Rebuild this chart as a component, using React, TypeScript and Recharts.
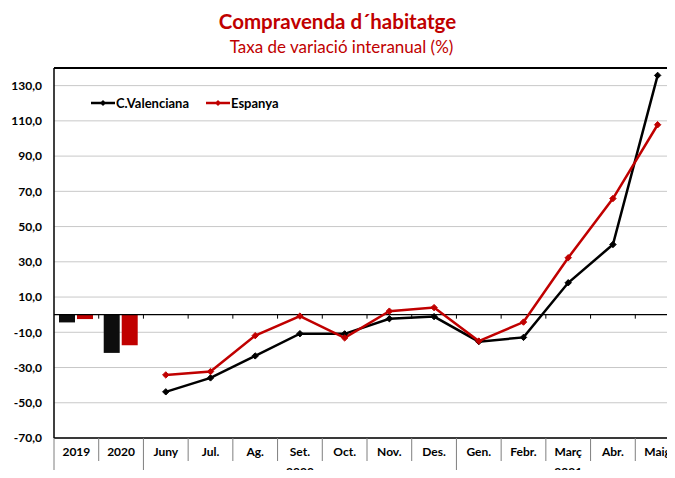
import React from "react";
import {
  ComposedChart,
  Bar,
  Line,
  XAxis,
  YAxis,
  CartesianGrid,
  ReferenceLine,
} from "recharts";

const categories = ["2019", "2020", "Juny", "Jul.", "Ag.", "Set.", "Oct.", "Nov.", "Des.", "Gen.", "Febr.", "Març", "Abr.", "Maig"];
const annualCV = [-4.4, -21.7];
const annualES = [-2.5, -17.4];
const monthlyCV = [-43.8, -35.9, -23.4, -10.8, -10.9, -2.3, -1.1, -15.3, -12.9, 18.1, 39.8, 135.8];
const monthlyES = [-34.2, -32.3, -11.9, -0.8, -13.2, 2.0, 4.0, -15.0, -4.2, 32.3, 65.9, 107.8];
const yTicks = [-70, -50, -30, -10, 10, 30, 50, 70, 90, 110, 130];
const yearGroups = [
  { label: "2020", from: 2, to: 8 },
  { label: "2021", from: 9, to: 13 },
];
const seriesNames = ["C.Valenciana", "Espanya"];

const RED = "#C00000";
const BLACK = "#000000";
const FONT = "Lato, 'Open Sans', sans-serif";

const CHART_W = 700;
const CHART_H = 478;
const MARGIN = { top: 68, right: 20, bottom: 0, left: 0 };
const Y_W = 54;
const X_H = 40;
const PLOT_W = CHART_W - MARGIN.left - MARGIN.right - Y_W;
const BAND = PLOT_W / categories.length;

const data = categories.map((c, i) => ({
  name: c,
  barCV: i < annualCV.length ? annualCV[i] : null,
  barES: i < annualES.length ? annualES[i] : null,
  cv: i >= annualCV.length ? monthlyCV[i - annualCV.length] : null,
  es: i >= annualES.length ? monthlyES[i - annualES.length] : null,
}));

const groupStarts = [0, ...yearGroups.map((g) => g.from)];

function Diamond(color: string) {
  return (props: any) => {
    const { cx, cy, index } = props;
    if (cx == null || cy == null || props.value == null) return <g key={index} />;
    const s = 3.2;
    return (
      <path
        key={index}
        d={`M${cx},${cy - s}L${cx + s},${cy}L${cx},${cy + s}L${cx - s},${cy}Z`}
        fill={color}
        stroke={color}
      />
    );
  };
}

function CategoryTick(props: any) {
  const { x, y, payload } = props;
  const idx = payload.index;
  const left = x - BAND / 2;
  const isGroupStart = groupStarts.includes(idx);
  const group = yearGroups.find((g) => (g.from + g.to) / 2 === idx);
  return (
    <g>
      <line x1={left} y1={y} x2={left} y2={isGroupStart ? y + 45 : y + 23} stroke="#7f7f7f" strokeWidth={1} />
      <text x={x} y={y + 18} textAnchor="middle" fontFamily={FONT} fontWeight="bold" fontSize={12} fill="#000">
        {payload.value}
      </text>
      {group && (
        <text x={x} y={y + 38} textAnchor="middle" fontFamily={FONT} fontWeight="bold" fontSize={12} fill="#000">
          {group.label}
        </text>
      )}
    </g>
  );
}

function ZeroLine(props: any) {
  const { x1, x2, y1 } = props;
  const n = categories.length;
  const step = (x2 - x1) / n;
  const ticks = [];
  for (let i = 1; i < n; i++) {
    ticks.push(<line key={i} x1={x1 + i * step} x2={x1 + i * step} y1={y1} y2={y1 + 4} stroke="#000" strokeWidth={1} />);
  }
  return (
    <g>
      <line x1={x1} x2={x2} y1={y1} y2={y1} stroke="#000" strokeWidth={1.2} />
      {ticks}
    </g>
  );
}

export default function App() {
  return (
    <div style={{ margin: -8, width: 675, height: 478, overflow: "hidden", position: "relative", background: "#fff" }}>
      <div
        style={{
          position: "absolute",
          top: 8,
          left: 0,
          width: 675,
          textAlign: "center",
          color: RED,
          fontFamily: FONT,
          fontWeight: "bold",
          fontSize: 20.5,
          lineHeight: "26px",
        }}
      >
        Compravenda d´habitatge
      </div>
      <div
        style={{
          position: "absolute",
          top: 36,
          left: 4,
          width: 675,
          textAlign: "center",
          color: RED,
          fontFamily: FONT,
          fontSize: 17,
          lineHeight: "22px",
        }}
      >
        Taxa de variació interanual (%)
      </div>
      <div style={{ position: "absolute", top: 0, left: 0 }}>
        <ComposedChart width={CHART_W} height={CHART_H} data={data} margin={MARGIN} barGap={2}>
          <CartesianGrid vertical={false} stroke="#c8c8c8" strokeWidth={1} />
          <YAxis
            width={Y_W}
            domain={[-70, 140]}
            ticks={yTicks}
            allowDataOverflow
            tickLine={false}
            tickSize={0}
            tickMargin={12}
            axisLine={{ stroke: "#000", strokeWidth: 1.5 }}
            tick={{ fontFamily: FONT, fontWeight: "bold", fontSize: 12, fill: "#000" }}
            tickFormatter={(v: number) => v.toFixed(1).replace(".", ",")}
          />
          <XAxis
            dataKey="name"
            height={X_H}
            interval={0}
            tickLine={false}
            tickSize={0}
            tickMargin={0}
            axisLine={{ stroke: "#000", strokeWidth: 1.5 }}
            tick={<CategoryTick />}
          />
          <ReferenceLine y={140} stroke="#000" strokeWidth={2} />
          <ReferenceLine y={0} shape={<ZeroLine />} />
          <Bar dataKey="barCV" fill="#0d0d0d" barSize={16} isAnimationActive={false} />
          <Bar dataKey="barES" fill={RED} barSize={16} isAnimationActive={false} />
          <Line
            type="linear"
            dataKey="cv"
            stroke={BLACK}
            strokeWidth={2.5}
            dot={Diamond(BLACK)}
            activeDot={false}
            isAnimationActive={false}
          />
          <Line
            type="linear"
            dataKey="es"
            stroke={RED}
            strokeWidth={2.5}
            dot={Diamond(RED)}
            activeDot={false}
            isAnimationActive={false}
          />
        </ComposedChart>
      </div>
      <div
        style={{
          position: "absolute",
          top: 95,
          left: 90,
          display: "flex",
          alignItems: "center",
          fontFamily: FONT,
          fontWeight: "bold",
          fontSize: 13,
          color: "#000",
        }}
      >
        {seriesNames.map((name, i) => {
          const c = i === 0 ? BLACK : RED;
          return (
            <div key={name} style={{ display: "flex", alignItems: "center", marginRight: 16 }}>
              <svg width={26} height={16}>
                <line x1={1} x2={25} y1={8} y2={8} stroke={c} strokeWidth={2.5} />
                <path d="M13,5L16,8L13,11L10,8Z" fill={c} />
              </svg>
              <span>{name}</span>
            </div>
          );
        })}
      </div>
    </div>
  );
}
